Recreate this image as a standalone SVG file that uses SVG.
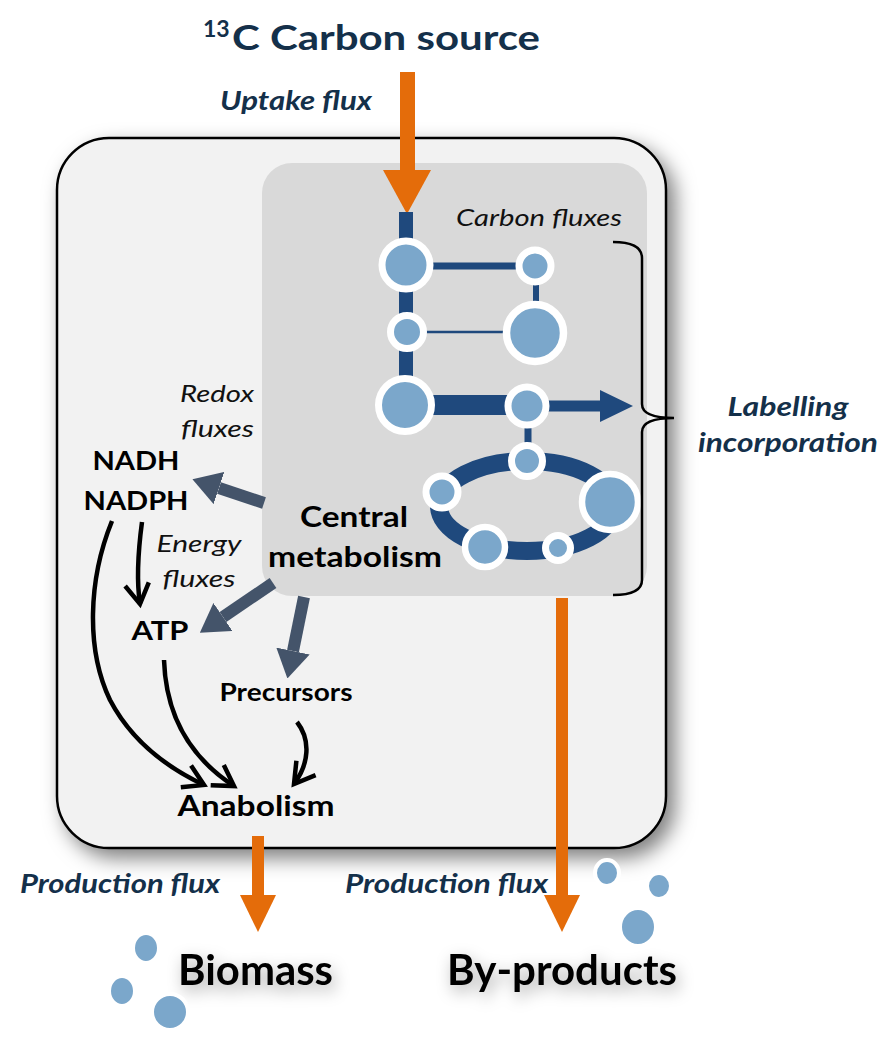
<svg xmlns="http://www.w3.org/2000/svg" width="884" height="1037" viewBox="0 0 884 1037">
<defs>
<filter id="sh" x="-20%" y="-20%" width="140%" height="140%">
<feDropShadow dx="8" dy="9" stdDeviation="10" flood-color="#000" flood-opacity="0.5"/>
</filter>
<filter id="tsh" x="-30%" y="-50%" width="160%" height="200%">
<feDropShadow dx="3" dy="6" stdDeviation="8" flood-color="#000" flood-opacity="0.35"/>
</filter>
<marker id="gh" viewBox="0 0 28 34" refX="0" refY="17" markerWidth="28" markerHeight="34" markerUnits="userSpaceOnUse" orient="auto">
<path d="M0,0 L28,17 L0,34 Z" fill="#44546a"/>
</marker>
<marker id="vh" viewBox="0 0 30 30" refX="24" refY="15" markerWidth="30" markerHeight="30" markerUnits="userSpaceOnUse" orient="auto">
<path d="M4,3 L24,15 L4,27" fill="none" stroke="#000" stroke-width="4.5" stroke-linejoin="miter"/>
</marker>
</defs>
<style>
text{font-family:Lato,"Liberation Sans",sans-serif;}
.t{fill:#14304a;font-weight:bold;}
.ti{fill:#14304a;font-weight:bold;font-style:italic;}
.b{fill:#000;font-weight:bold;}
.i{fill:#111;font-style:italic;}
.nd{fill:#7ba7cb;stroke:#fff;}
.nv{stroke:#1f497d;fill:none;}
.ga{stroke:#44546a;stroke-width:12;fill:none;marker-end:url(#gh);}
.ka{stroke:#000;stroke-width:4.5;fill:none;marker-end:url(#vh);}
.or{fill:#e46c0a;}
.dot{fill:#7ba7cb;stroke:#fff;stroke-width:4;}
</style>
<rect width="884" height="1037" fill="#fff"/>

<g id="title">
<text class="t" x="203" y="37" font-size="23">13</text>
<text class="t" x="232" y="50" font-size="34" textLength="308" lengthAdjust="spacingAndGlyphs">C Carbon source</text>
</g>
<text class="ti" x="220" y="110" font-size="26" textLength="152" lengthAdjust="spacingAndGlyphs">Uptake flux</text>

<g id="cell">
<rect x="57" y="138" width="609" height="710" rx="52" fill="#f2f2f2" stroke="#000" stroke-width="2.5" filter="url(#sh)"/>
</g>
<g id="central-metabolism">
<rect x="262" y="163" width="385" height="433" rx="30" fill="#d9d9d9"/>
<text class="b" x="354" y="527" font-size="28" text-anchor="middle" textLength="108" lengthAdjust="spacingAndGlyphs">Central</text>
<text class="b" x="355" y="567" font-size="28" text-anchor="middle" textLength="174" lengthAdjust="spacingAndGlyphs">metabolism</text>
</g>

<g id="uptake-arrow">
<rect class="or" x="400" y="72" width="15" height="100"/>
<polygon class="or" points="383,170 431,170 407,214"/>
</g>

<g id="network">
<line class="nv" x1="406" y1="212" x2="406" y2="405" stroke-width="14"/>
<line class="nv" x1="406" y1="266" x2="535" y2="266" stroke-width="7"/>
<line class="nv" x1="536" y1="266" x2="536" y2="333" stroke-width="6"/>
<line class="nv" x1="407" y1="332" x2="535" y2="332" stroke-width="2.5"/>
<line class="nv" x1="405" y1="405" x2="527" y2="405" stroke-width="20"/>
<line class="nv" x1="527" y1="406" x2="602" y2="406" stroke-width="11"/>
<polygon points="600,390 633,406 600,422" fill="#1f497d"/>
<line class="nv" x1="528" y1="406" x2="528" y2="461" stroke-width="7"/>
<ellipse class="nv" cx="527" cy="506" rx="88" ry="45" stroke-width="18"/>
<circle class="nd" cx="406" cy="265" r="24" stroke-width="7"/>
<circle class="nd" cx="535" cy="266" r="16" stroke-width="7"/>
<circle class="nd" cx="407" cy="332" r="16.5" stroke-width="7"/>
<circle class="nd" cx="535" cy="333" r="28.5" stroke-width="7.5"/>
<circle class="nd" cx="405" cy="405" r="26.5" stroke-width="7"/>
<circle class="nd" cx="527" cy="406" r="19" stroke-width="7"/>
<circle class="nd" cx="527" cy="461" r="15.5" stroke-width="7"/>
<circle class="nd" cx="442" cy="492" r="16" stroke-width="7"/>
<circle class="nd" cx="610" cy="502" r="28" stroke-width="6.5"/>
<circle class="nd" cx="485" cy="547" r="20" stroke-width="6.5"/>
<circle class="nd" cx="558" cy="548" r="12.5" stroke-width="7"/>
</g>
<text class="i" x="456" y="226" font-size="23" textLength="166" lengthAdjust="spacingAndGlyphs">Carbon fluxes</text>

<g id="bracket">
<path d="M613,242 Q642,242 642,258 L642,404 Q642,418 674,418 Q642,418 642,432 L642,580 Q642,595 613,595" fill="none" stroke="#000" stroke-width="2.5"/>
</g>
<g id="labelling">
<text class="ti" x="788" y="416" font-size="26" text-anchor="middle" textLength="121" lengthAdjust="spacingAndGlyphs">Labelling</text>
<text class="ti" x="788" y="452" font-size="26" text-anchor="middle" textLength="180" lengthAdjust="spacingAndGlyphs">incorporation</text>
</g>

<g id="redox">
<text class="i" x="254" y="402" font-size="23" text-anchor="end" textLength="74" lengthAdjust="spacingAndGlyphs">Redox</text>
<text class="i" x="254" y="437" font-size="23" text-anchor="end" textLength="73" lengthAdjust="spacingAndGlyphs">fluxes</text>
</g>
<g id="nadh">
<text class="b" x="136" y="470" font-size="27" text-anchor="middle" textLength="87" lengthAdjust="spacingAndGlyphs">NADH</text>
<text class="b" x="136" y="510" font-size="27" text-anchor="middle" textLength="105" lengthAdjust="spacingAndGlyphs">NADPH</text>
</g>
<g id="energy">
<text class="i" x="199" y="552" font-size="23" text-anchor="middle" textLength="85" lengthAdjust="spacingAndGlyphs">Energy</text>
<text class="i" x="199" y="587" font-size="23" text-anchor="middle" textLength="73" lengthAdjust="spacingAndGlyphs">fluxes</text>
</g>
<g id="atp">
<text class="b" x="160" y="640" font-size="27" text-anchor="middle" textLength="57" lengthAdjust="spacingAndGlyphs">ATP</text>
</g>
<g id="precursors">
<text class="b" x="286" y="701" font-size="24" text-anchor="middle" textLength="133" lengthAdjust="spacingAndGlyphs">Precursors</text>
</g>
<g id="anabolism">
<text class="b" x="256" y="816" font-size="29" text-anchor="middle" textLength="157" lengthAdjust="spacingAndGlyphs">Anabolism</text>
</g>

<g id="connectors">
<line class="ga" x1="264" y1="503" x2="219" y2="488"/>
<line class="ga" x1="273" y1="583" x2="223" y2="617"/>
<line class="ga" x1="304" y1="597" x2="293" y2="651"/>
<path class="ka" d="M142,522 C138,552 136,578 140,604"/>
<path class="ka" d="M112,521 C88,580 86,650 110,700 C132,742 168,768 204,785"/>
<path class="ka" d="M164,660 C166,720 194,760 234,786"/>
<path class="ka" d="M297,722 C311,740 309,764 294,784"/>
</g>

<g id="production-biomass">
<rect class="or" x="252" y="836" width="12" height="62"/>
<polygon class="or" points="240,895 276,895 258,932"/>
<text class="ti" x="20" y="893" font-size="26" textLength="200" lengthAdjust="spacingAndGlyphs">Production flux</text>
</g>
<g id="production-byproducts">
<rect class="or" x="556" y="598" width="12" height="300"/>
<polygon class="or" points="544,895 580,895 562,932"/>
<text class="ti" x="345" y="893" font-size="26" textLength="203" lengthAdjust="spacingAndGlyphs">Production flux</text>
</g>

<g id="biomass">
<text class="b" x="178" y="985" font-size="42" filter="url(#tsh)" textLength="155" lengthAdjust="spacingAndGlyphs">Biomass</text>
<ellipse class="dot" cx="146" cy="948" rx="13" ry="15" stroke-width="0"/>
<ellipse class="dot" cx="122" cy="991" rx="13" ry="15" stroke-width="0"/>
<ellipse class="dot" cx="170" cy="1012" rx="18" ry="18" stroke-width="3"/>
</g>
<g id="by-products">
<text class="b" x="447" y="985" font-size="42" filter="url(#tsh)" textLength="230" lengthAdjust="spacingAndGlyphs">By-products</text>
<ellipse class="dot" cx="607" cy="873" rx="12" ry="13" stroke-width="5"/>
<ellipse class="dot" cx="659" cy="886" rx="12" ry="13" stroke-width="4"/>
<ellipse class="dot" cx="638" cy="927" rx="18" ry="19" stroke-width="4"/>
</g>
</svg>
